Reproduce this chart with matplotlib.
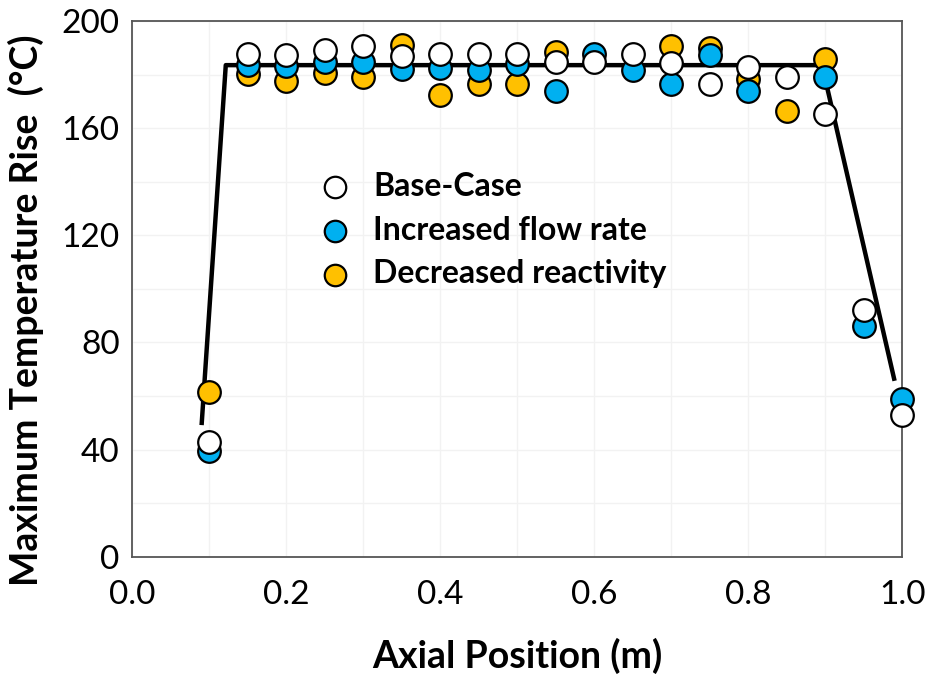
import matplotlib
matplotlib.use("Agg")
import matplotlib.pyplot as plt
import numpy as np

plt.rcParams['font.family'] = ['Lato', 'DejaVu Sans']

# axial positions of the thermocouples (m)
position = [0.10, 0.15, 0.20, 0.25, 0.30, 0.35, 0.40, 0.45, 0.50, 0.55,
            0.60, 0.65, 0.70, 0.75, 0.80, 0.85, 0.90, 0.95, 1.00]

# maximum temperature rise (C) for each case; nan where no reading
base_case = [42.8, 187.8, 187.4, 189.0, 190.5, 187.0, 187.8, 187.8, 187.8, 184.7,
             184.7, 187.8, 184.4, 176.6, 182.8, 179.0, 165.4, 92.2, 53.1]
flow_rate = [39.4, 183.7, 183.2, 184.6, 184.7, 182.0, 182.4, 181.6, 184.0, 173.7,
             187.8, 181.8, 176.6, 187.4, 173.7, np.nan, 179.0, 86.0, 58.9]
reactivity = [61.4, 180.3, 177.5, 180.5, 179.0, 191.0, 172.5, 176.6, 176.6, 188.4,
              np.nan, np.nan, 190.5, 190.0, 178.3, 166.4, 185.9, np.nan, np.nan]

# trend line: ramp up, plateau, drop off
trend_x = [0.0905, 0.1217, 0.896, 0.9896]
trend_y = [50.0, 183.5, 183.5, 66.5]

fig = plt.figure(figsize=(9.3, 6.75), dpi=100)
ax = fig.add_axes([0.142, 0.175, 0.828, 0.794])

ax.plot(trend_x, trend_y, color='black', lw=3.2, zorder=2)

mk = dict(marker='o', s=265, edgecolors='black', linewidths=1.6, clip_on=False)
ax.scatter(position, reactivity, color='#ffc000', zorder=3,
           label='Decreased reactivity', **mk)
ax.scatter(position, flow_rate, color='#00b0f0', zorder=4,
           label='Increased flow rate', **mk)
ax.scatter(position, base_case, color='white', zorder=5,
           label='Base-Case', **mk)

ax.set_xlim(0, 1.0)
ax.set_ylim(0, 200)
ax.set_xticks(np.arange(0, 1.01, 0.2))
ax.set_xticklabels(['0.0', '0.2', '0.4', '0.6', '0.8', '1.0'])
ax.set_yticks(np.arange(0, 201, 40))
ax.set_xticks(np.arange(0, 1.01, 0.1), minor=True)
ax.set_yticks(np.arange(0, 201, 20), minor=True)
ax.grid(which='both', color='#f2f2f2', lw=1.0)
ax.set_axisbelow(True)
ax.tick_params(which='both', length=0, labelsize=24)
ax.tick_params(axis='x', pad=17)
ax.tick_params(axis='y', pad=9)

for sp in ax.spines.values():
    sp.set_color('#555555')
    sp.set_linewidth(1.3)

ax.set_xlabel('Axial Position (m)', fontsize=27, fontweight='bold', labelpad=20)
ax.set_ylabel('Maximum Temperature Rise  (°C)', fontsize=27, fontweight='bold')
ax.yaxis.set_label_coords(-0.115, 0.46)

handles, labels = ax.get_legend_handles_labels()
order = [2, 1, 0]
ax.legend([handles[i] for i in order], [labels[i] for i in order],
          loc='upper left', bbox_to_anchor=(0.205, 0.772), frameon=False,
          prop={'size': 23, 'weight': 'bold'}, markerscale=0.95,
          handlelength=1.0, handletextpad=0.7, labelspacing=0.46)

fig.savefig('out.png', dpi=100)
